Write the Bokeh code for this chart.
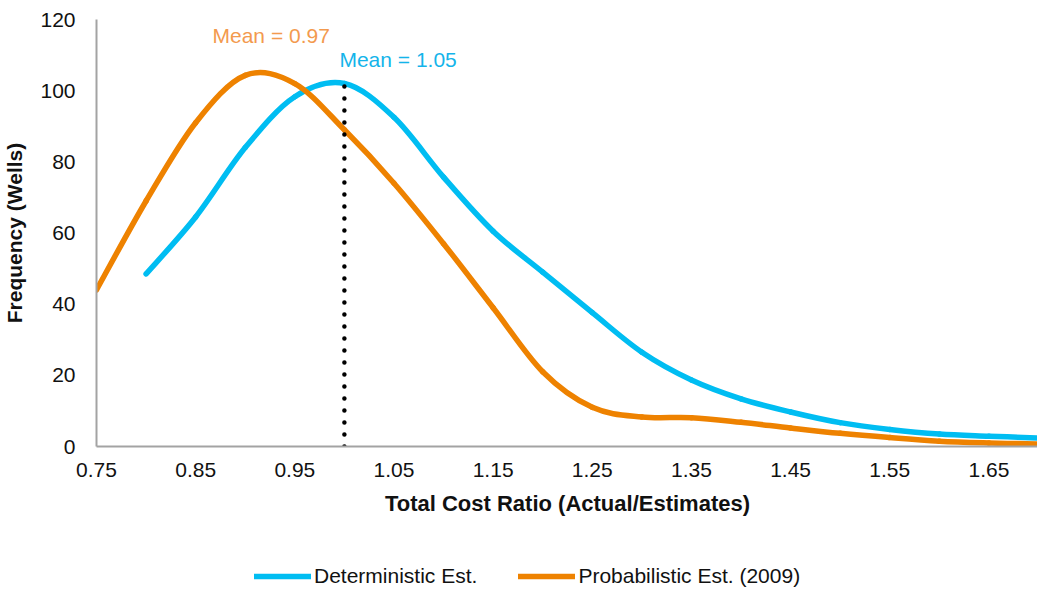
from bokeh.plotting import figure
from bokeh.layouts import column
from bokeh.models import Label, Legend, LegendItem, FixedTicker, Range1d
from bokeh.embed import file_html
from bokeh.resources import INLINE

# Cost ratio (actual / estimate) bins and well counts per bin
prob_ratio = [0.75, 0.80, 0.85, 0.90, 0.95, 1.00, 1.05, 1.10, 1.15, 1.20,
              1.25, 1.30, 1.35, 1.40, 1.45, 1.50, 1.55, 1.60, 1.65, 1.70]
prob_wells = [44, 69, 91, 104.3, 102, 89, 74, 57, 39, 21,
              11, 8.3, 8.1, 6.8, 5.2, 3.7, 2.5, 1.5, 1.0, 0.7]

det_ratio = [0.80, 0.85, 0.90, 0.95, 1.00, 1.05, 1.10, 1.15, 1.20,
             1.25, 1.30, 1.35, 1.40, 1.45, 1.50, 1.55, 1.60, 1.65, 1.70]
det_wells = [48.5, 64.5, 84, 98.3, 102, 92.5, 75.7, 60.5, 49,
             37.6, 26.5, 18.7, 13.4, 9.7, 6.7, 4.8, 3.5, 2.9, 2.4]

series_names = ["Deterministic Est.", "Probabilistic Est. (2009)"]

x_ticks = [0.75, 0.85, 0.95, 1.05, 1.15, 1.25, 1.35, 1.45, 1.55, 1.65]
x_tick_labels = ["0.75", "0.85", "0.95", "1.05", "1.15", "1.25", "1.35", "1.45", "1.55", "1.65"]
y_ticks = [0, 20, 40, 60, 80, 100, 120]

marker_ratio = 1.00
mean_labels = ["Mean = 0.97", "Mean = 1.05"]

BLUE = "#00BDF2"
ORANGE = "#EE8200"
FONT = "Liberation Sans"
CURVE_WIDTH = 5.5


def smooth_segments(xs, ys):
    """Catmull-Rom control points so the series is drawn as a smoothed line."""
    n = len(xs)
    seg = dict(x0=[], y0=[], x1=[], y1=[], cx0=[], cy0=[], cx1=[], cy1=[])
    for i in range(n - 1):
        xp, yp = (xs[i - 1], ys[i - 1]) if i > 0 else (xs[i], ys[i])
        xn, yn = (xs[i + 2], ys[i + 2]) if i + 2 < n else (xs[i + 1], ys[i + 1])
        seg["x0"].append(xs[i]); seg["y0"].append(ys[i])
        seg["x1"].append(xs[i + 1]); seg["y1"].append(ys[i + 1])
        seg["cx0"].append(xs[i] + (xs[i + 1] - xp) / 6.0)
        seg["cy0"].append(ys[i] + (ys[i + 1] - yp) / 6.0)
        seg["cx1"].append(xs[i + 1] - (xn - xs[i]) / 6.0)
        seg["cy1"].append(ys[i + 1] - (yn - ys[i]) / 6.0)
    return seg


# ---- main chart ----
p = figure(width=1037, height=546, output_backend="svg", toolbar_location=None,
           x_range=Range1d(0.75, 1.70), y_range=Range1d(0, 120),
           min_border_left=95, min_border_right=0, min_border_top=19, min_border_bottom=100)
p.frame_width = 942
p.frame_height = 427
p.outline_line_color = None
p.grid.visible = False
p.background_fill_color = "white"
p.border_fill_color = "white"

det = smooth_segments(det_ratio, det_wells)
prob = smooth_segments(prob_ratio, prob_wells)

p.bezier(source=det, x0="x0", y0="y0", x1="x1", y1="y1",
         cx0="cx0", cy0="cy0", cx1="cx1", cy1="cy1",
         line_color=BLUE, line_width=CURVE_WIDTH, line_cap="round")
p.bezier(source=prob, x0="x0", y0="y0", x1="x1", y1="y1",
         cx0="cx0", cy0="cy0", cx1="cx1", cy1="cy1",
         line_color=ORANGE, line_width=CURVE_WIDTH, line_cap="round")

# dotted marker line up to the deterministic curve
marker_top = det_wells[det_ratio.index(marker_ratio)]
p.line(x=[marker_ratio, marker_ratio], y=[0, marker_top], line_color="black",
       line_width=4.5, line_dash="0 12", line_cap="round")

p.add_layout(Label(x=0.867, y=115.5, text=mean_labels[0], text_color="#F39A4E",
                   text_font=FONT, text_font_size="21px", text_baseline="middle"))
p.add_layout(Label(x=0.995, y=108.8, text=mean_labels[1], text_color="#14B4EA",
                   text_font=FONT, text_font_size="21px", text_baseline="middle"))

xa = p.xaxis[0]
xa.ticker = FixedTicker(ticks=x_ticks)
xa.major_label_overrides = dict(zip(x_ticks, x_tick_labels))
ya = p.yaxis[0]
ya.ticker = FixedTicker(ticks=y_ticks)
for ax in (xa, ya):
    ax.axis_line_color = "#A3A3A3"
    ax.axis_line_width = 2
    ax.major_tick_line_color = None
    ax.minor_tick_line_color = None
    ax.major_label_text_font = FONT
    ax.major_label_text_font_size = "21px"
    ax.major_label_text_color = "#111111"
    ax.axis_label_text_font = FONT
    ax.axis_label_text_font_style = "bold"
    ax.axis_label_text_color = "#111111"
xa.axis_label = "Total Cost Ratio (Actual/Estimates)"
ya.axis_label = "Frequency (Wells)"
xa.axis_label_text_font_size = "22px"
ya.axis_label_text_font_size = "21px"
xa.major_label_standoff = 10
xa.axis_label_standoff = 11
ya.major_label_standoff = 15
ya.axis_label_standoff = 11

# ---- legend strip under the chart ----
# The series are repeated here only to feed the legend keys; the strip's
# y range lies above the data, so the curves themselves stay out of view.
key = figure(width=1037, height=43, output_backend="svg", toolbar_location=None,
             x_range=Range1d(0.75, 1.70), y_range=Range1d(-20, -10),
             x_axis_type=None, y_axis_type=None, min_border=0)
key.outline_line_color = None
key.grid.visible = False
key.border_fill_color = "white"
k_det = key.line(x=det_ratio, y=det_wells, line_color=BLUE,
                 line_width=CURVE_WIDTH, line_cap="round")
k_prob = key.line(x=prob_ratio, y=prob_wells, line_color=ORANGE,
                  line_width=CURVE_WIDTH, line_cap="round")

legend = Legend(items=[LegendItem(label=series_names[0], renderers=[k_det]),
                       LegendItem(label=series_names[1], renderers=[k_prob])],
                location=(158, 1), orientation="horizontal",
                glyph_width=57, glyph_height=20, label_standoff=3, spacing=41,
                padding=0, margin=0, border_line_color=None,
                background_fill_alpha=0,
                label_text_font=FONT, label_text_font_size="21px",
                label_text_color="#111111")
key.add_layout(legend)

open("out.html", "w").write(file_html(column(p, key, spacing=0), INLINE))
